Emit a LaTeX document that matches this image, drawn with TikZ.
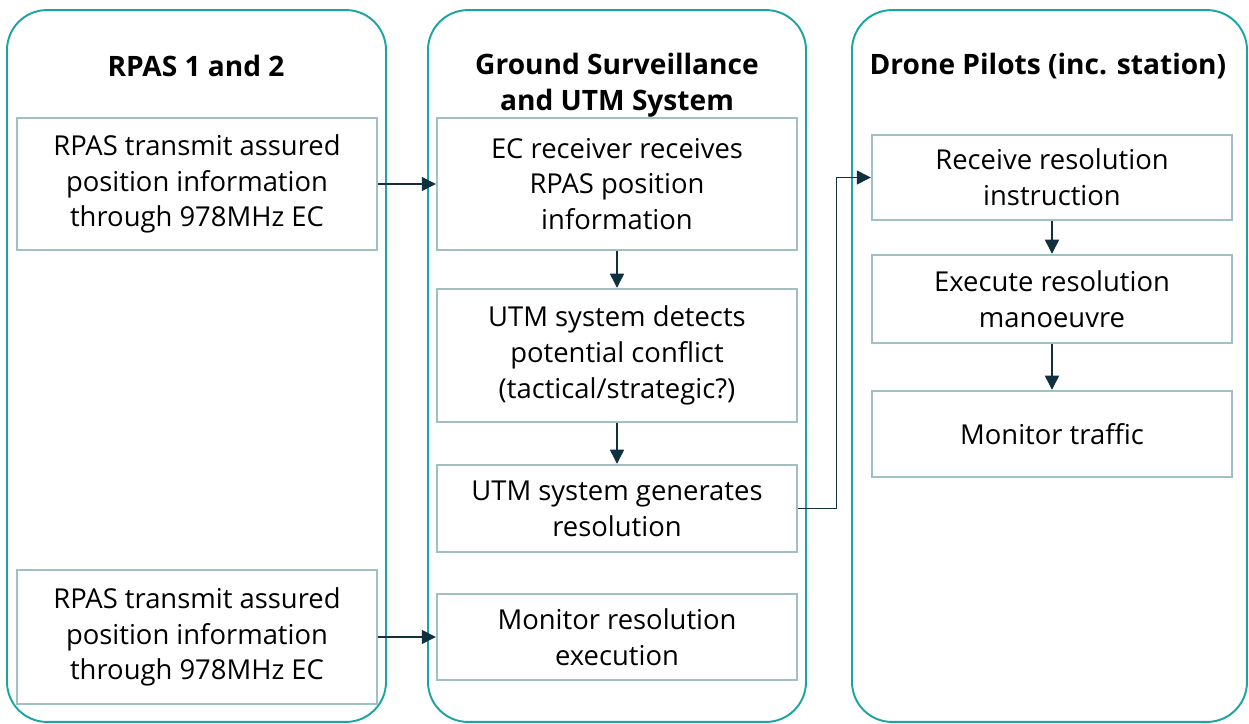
\documentclass[tikz,border=0pt]{standalone}
\usepackage{fontspec}
\setmainfont{Open Sans}
\usetikzlibrary{arrows.meta}
\definecolor{lanecol}{RGB}{27,165,162}
\definecolor{boxcol}{RGB}{160,192,195}
\definecolor{arrcol}{RGB}{16,48,64}
\begin{document}
\begin{tikzpicture}[x=0.02cm, y=-0.02cm,
    lane/.style={draw=lanecol, line width=1.1pt, rounded corners=0.8cm, minimum width=#1*0.02cm, minimum height=14.24cm},
    box/.style={draw=boxcol, line width=1.4pt, align=center, inner sep=0pt, minimum width=7.2cm, minimum height=#1*0.02cm, font=\fontsize{15.6}{20.4}\selectfont},
    head/.style={align=center, font=\fontsize{16}{20.4}\selectfont\bfseries},
    arr/.style={draw=arrcol, line width=0.75pt, -{Triangle[length=8pt, width=8pt]}}]
    \useasboundingbox (0,0) rectangle (1249,724);
    \node[lane=379] (rpas) at (196.5,366) {}; \node[lane=378] (gnd) at (617,366) {}; \node[lane=395] (pil) at (1049.5,366) {};
    \node[head] (trpas) at (196,66) {RPAS 1 and 2};
    \node[head] (tgnd) at (617,85) {Ground Surveillance\\and UTM System};
    \node[head] (tpil) at (1048,66) {Drone Pilots (inc. station)};
    
    \node[box=132] (r1) at (197,184) {RPAS transmit assured\\position information\\through 978MHz EC};
    \node[box=134] (r2) at (197,637) {RPAS transmit assured\\position information\\through 978MHz EC};
    
    \node[box=132] (g1) at (617,184) {EC receiver receives\\RPAS position\\information};
    \node[box=133] (g2) at (617,355.5) {UTM system detects\\potential conflict\\(tactical/strategic?)};
    \node[box=87] (g3) at (617,508.5) {UTM system generates\\resolution};
    \node[box=86] (g4) at (617,637) {Monitor resolution\\execution};
    
    \node[box=85] (p1) at (1052,177.5) {Receive resolution\\instruction};
    \node[box=88] (p2) at (1052,299) {Execute resolution\\manoeuvre};
    \node[box=86] (p3) at (1052,434) {Monitor traffic};
    
    \draw[arr] (r1) -- (g1); \draw[arr] (r2) -- (g4);
    \draw[arr] (g1) -- (g2); \draw[arr] (g2) -- (g3);
    \draw[arr] (g3.east) -- ++(38,0) |- (p1.west);
    \draw[arr] (p1) -- (p2); \draw[arr] (p2) -- (p3);
\end{tikzpicture}
\end{document}
